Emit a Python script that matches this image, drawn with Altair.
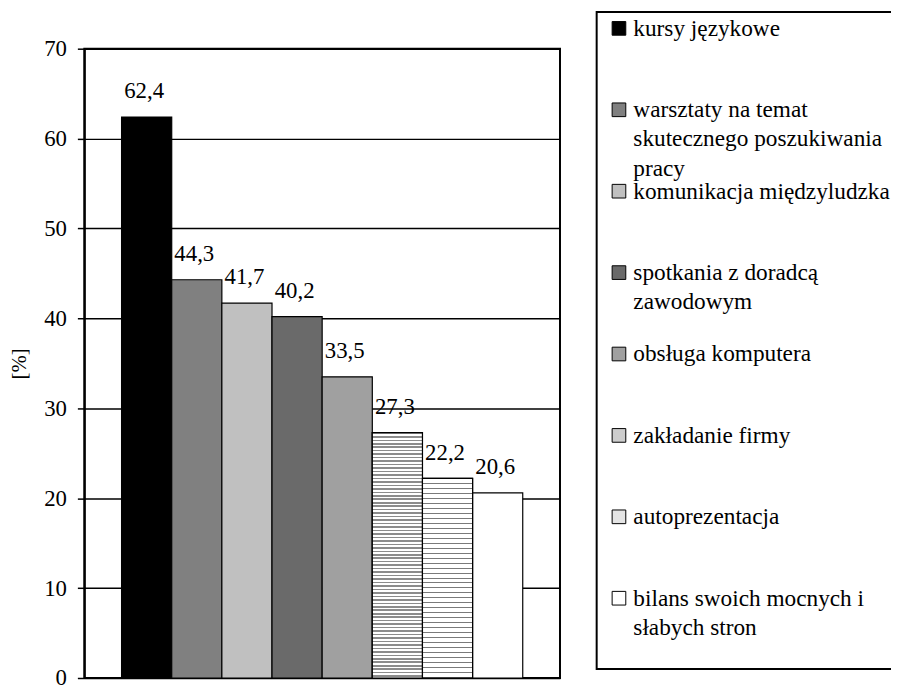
import altair as alt
import pandas as pd

categories = [
    "kursy językowe",
    "warsztaty na temat skutecznego poszukiwania pracy",
    "komunikacja międzyludzka",
    "spotkania z doradcą zawodowym",
    "obsługa komputera",
    "zakładanie firmy",
    "autoprezentacja",
    "bilans swoich mocnych i słabych stron",
]
values = [62.4, 44.3, 41.7, 40.2, 33.5, 27.3, 22.2, 20.6]
legend_labels = [
    "kursy językowe",
    "warsztaty na temat\nskutecznego poszukiwania\npracy",
    "komunikacja międzyludzka",
    "spotkania z doradcą\nzawodowym",
    "obsługa komputera",
    "zakładanie firmy",
    "autoprezentacja",
    "bilans swoich mocnych i\nsłabych stron",
]
fills = ["#000000", "#808080", "#c0c0c0", "#6a6a6a", "#a0a0a0",
         "#cdcdcd", "#e4e4e4", "#ffffff"]
y_ticks = [0, 10, 20, 30, 40, 50, 60, 70]

FONT = "Liberation Serif, Times New Roman, DejaVu Serif, serif"
W, H, YMAX = 480, 635, 70

df = pd.DataFrame({"cat": categories, "value": values})
leg = pd.DataFrame({"cat": categories, "label": legend_labels})
box = pd.DataFrame({"b": [1]})

fill_scale = alt.Scale(domain=categories, range=fills)

x_enc = alt.X("cat:N", sort=categories,
              scale=alt.Scale(paddingInner=0, paddingOuter=0.743),
              axis=None)
y_axis = alt.Axis(values=y_ticks, grid=True, gridColor="black",
                  gridWidth=1.5, gridOpacity=1,
                  domainColor="black", domainWidth=2,
                  tickColor="black", tickWidth=1.5, tickSize=7,
                  labelFont=FONT, labelFontSize=23,
                  labelColor="black", labelPadding=11,
                  title="[%]", titleFont=FONT, titleFontSize=21,
                  titleFontWeight="normal", titleColor="black",
                  titleX=-65, titleY=317.5, titleBaseline="middle",
                  titleAngle=270)
y_enc = alt.Y("value:Q", scale=alt.Scale(domain=[0, YMAX], nice=False),
              axis=y_axis)

bars = alt.Chart(df).mark_bar(stroke="black", strokeWidth=1.2).encode(
    x=x_enc, y=y_enc,
    fill=alt.Fill("cat:N", scale=fill_scale, legend=None),
)


def stripes(value, period, ink, ink_px, paper="#ffffff"):
    """Horizontal hatch as a hard-stop linear gradient (style only)."""
    h = value * H / YMAX
    stops = []
    n = int(h // period) + 1
    for i in range(n):
        a = i * period / h
        b = (i * period + ink_px) / h
        c = (i + 1) * period / h
        if a > 1:
            break
        stops += [{"offset": min(a, 1), "color": ink},
                  {"offset": min(b, 1), "color": ink},
                  {"offset": min(b, 1), "color": paper},
                  {"offset": min(c, 1), "color": paper}]
    return alt.Gradient(gradient="linear", stops=stops,
                        x1=0, y1=0, x2=0, y2=1)


pattern_specs = {
    categories[5]: (3.5, "#8c8c8c", 1.6),
    categories[6]: (5.0, "#7a7a7a", 1.0),
}
overlays = []
for cat, (period, ink, ink_px) in pattern_specs.items():
    v = values[categories.index(cat)]
    overlays.append(
        alt.Chart(df).transform_filter(alt.datum.cat == cat).mark_bar(
            fill=stripes(v, period, ink, ink_px), stroke="black",
            strokeWidth=1.2
        ).encode(x=x_enc, y=y_enc)
    )

labels = alt.Chart(df).transform_calculate(
    lab="replace(format(datum.value, '.1f'), '.', ',')"
).mark_text(font=FONT, fontSize=23, color="black", baseline="middle",
            dy=-26, dx=-2.5).encode(
    x=x_enc,
    y=y_enc,
    text="lab:N",
)

main = alt.layer(bars, *overlays, labels)

leg_y = alt.Y("cat:N", sort=categories,
              scale=alt.Scale(type="point", domain=categories,
                              range=[-13, 562], padding=0),
              axis=None)

legend_box = alt.Chart(box).mark_rect(
    fillOpacity=0, stroke="black", strokeWidth=2
).encode(x=alt.value(517), x2=alt.value(900),
         y=alt.value(-37), y2=alt.value(626))

legend_sq = alt.Chart(leg).mark_square(
    size=190, stroke="black", strokeWidth=1, opacity=1, yOffset=-7.5
).encode(x=alt.value(539.5), y=leg_y,
         fill=alt.Fill("cat:N", scale=fill_scale, legend=None))

legend_txt = alt.Chart(leg).mark_text(
    font=FONT, fontSize=23.5, color="black", align="left",
    baseline="alphabetic", lineBreak="\n", lineHeight=29.5
).encode(x=alt.value(554), y=leg_y, text="label:N")

legend = alt.layer(legend_box, legend_sq, legend_txt)

chart = alt.layer(main, legend).resolve_scale(y="independent").properties(
    width=W, height=H,
    background="white",
    autosize=alt.AutoSizeParams(type="none"),
    padding={"left": 77, "top": 38, "right": 334, "bottom": 4},
).configure_view(stroke="black", strokeWidth=2)

chart.save("out.html", embed_options={"renderer": "svg", "actions": False})
